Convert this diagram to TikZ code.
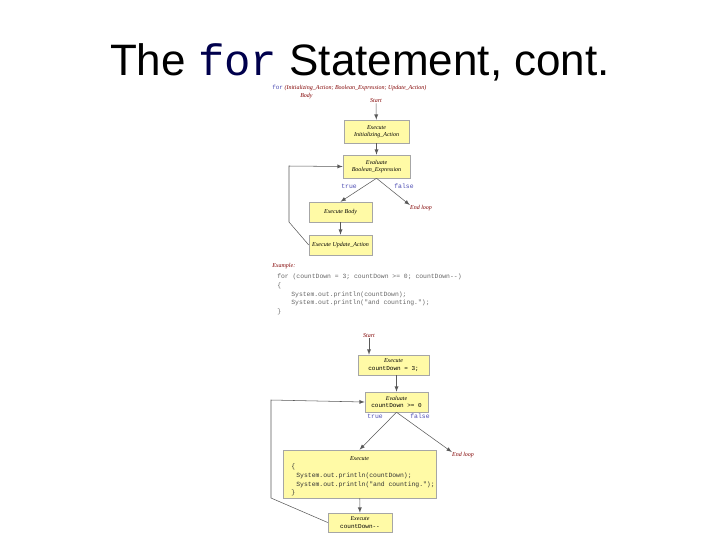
\documentclass[tikz,border=0pt]{standalone}
\usepackage{fontspec}
\setmainfont{Liberation Serif}
\setsansfont{Liberation Sans}
\setmonofont{Liberation Mono}
\begin{document}
\begin{tikzpicture}[x=0.75pt,y=-0.75pt,
 box/.style={draw=black!35,fill=yellow!35,inner sep=0pt,font=\fontsize{4.5}{5.5}\selectfont\itshape,align=center},
 lbl/.style={font=\fontsize{4.5}{5.5}\selectfont\itshape,text=red!50!black,inner sep=0pt},
 code/.style={font=\fontsize{4.8}{6.5}\ttfamily,text=black!60,inner sep=0pt,align=left},
 tf/.style={font=\fontsize{4.8}{6}\ttfamily,text=blue!40!gray,inner sep=0pt},
 arr/.style={->,>=latex,draw=black!65,line width=0.4pt}]
\useasboundingbox (0,0) rectangle (720,540);
\node (title) at (360,62) {\fontsize{33}{37}\selectfont\sffamily The {\ttfamily\color{blue!30!black}for} Statement, cont.};
\node[anchor=west,inner sep=0pt,font=\fontsize{4.5}{5.5}\selectfont] (h1) at (272,88) {{\ttfamily\color{blue!40!gray}for} \textcolor{red!50!black}{\itshape (Initializing\_Action; Boolean\_Expression; Update\_Action)}};
\node[lbl,anchor=west] (h2) at (300,96) {Body};
\node[lbl] (s1) at (376,101) {Start};
\node[box,minimum width=65*0.75pt,minimum height=23*0.75pt] (b1) at (376.5,131.5) {Execute\\Initializing\_Action};
\node[box,minimum width=67*0.75pt,minimum height=23*0.75pt] (b2) at (376.5,166.5) {Evaluate\\Boolean\_Expression};
\node[tf] (t1) at (349,186) {true};
\node[tf] (f1) at (404,186) {false};
\node[box,minimum width=63*0.75pt,minimum height=20*0.75pt] (b3) at (340.5,212) {Execute Body};
\node[lbl] (e1) at (421,208) {End loop};
\node[box,minimum width=63*0.75pt,minimum height=20*0.75pt] (b4) at (340.5,245) {Execute Update\_Action};
\coordinate (c1) at (289,222); \coordinate (c2) at (289,166);
\draw[arr] (s1) -- (b1);
\draw[arr] (b1) -- (b2);
\draw[arr] (b2.south) -- (b3.north);
\draw[arr] (b2.south) -- (e1.north west);
\draw[arr] (b3) -- (b4);
\draw[arr] (b4.west) -- (c1) -- (c2) -- (b2.west);
\node[lbl,anchor=west] (ex) at (272,266) {Example:};
\node[code,anchor=north west] (cd) at (277,274) {for (countDown = 3; countDown >= 0; countDown--)\\\{\\\hspace{2.2em}System.out.println(countDown);\\\hspace{2.2em}System.out.println("and counting.");\\\}};
\node[lbl] (s2) at (369,336) {Start};
\node[box,minimum width=71*0.75pt,minimum height=20*0.75pt] (b5) at (393.5,365) {Execute\\\upshape\ttfamily countDown = 3;};
\node[box,minimum width=63*0.75pt,minimum height=20*0.75pt] (b6) at (396.5,402) {Evaluate\\\upshape\ttfamily countDown >= 0};
\node[tf] (t2) at (375,416) {true};
\node[tf] (f2) at (420,416) {false};
\node[box,minimum width=153*0.75pt,minimum height=48*0.75pt] (b7) at (359.5,474) {};
\node[font=\fontsize{4.5}{5.5}\selectfont\itshape,inner sep=0pt] (b7h) at (359.5,459) {Execute};
\node[code,text=black!80,anchor=north west] (b7c) at (291,464) {\{\\\hspace{0.8em}System.out.println(countDown);\\\hspace{0.8em}System.out.println("and counting.");\\\}};
\node[lbl] (e2) at (463,455) {End loop};
\node[box,minimum width=64*0.75pt,minimum height=19*0.75pt] (b8) at (360,522.5) {Execute\\\upshape\ttfamily countDown--};
\coordinate (c3) at (271,498); \coordinate (c4) at (271,400);
\draw[arr] (s2) -- (b5.north west -| s2);
\draw[arr] (b5.south -| b6) -- (b6);
\draw[arr] (b6.south) -- (b7.north);
\draw[arr] (b6.south) -- (e2.north west);
\draw[arr] (b7) -- (b8);
\draw[arr] (b8.west) -- (c3) -- (c4) -- (b6.west);
\end{tikzpicture}
\end{document}
